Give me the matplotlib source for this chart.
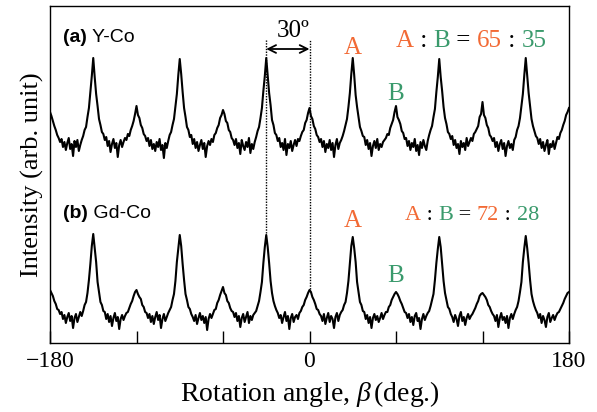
import numpy as np
import matplotlib
matplotlib.use("Agg")
import matplotlib.pyplot as plt

plt.rcParams['font.family'] = 'Liberation Serif'
plt.rcParams['mathtext.fontset'] = 'custom'
plt.rcParams['mathtext.rm'] = 'Liberation Serif'
plt.rcParams['mathtext.it'] = 'Liberation Serif:italic'

ORANGE = '#f26a35'
GREEN = '#3a9a6c'

# rotation angle, 1 deg steps
angle = np.arange(-180, 181)

# intensity (arb. unit), one row per 30 deg
inten_yco = [
    231, 227, 222, 217, 213, 208, 205, 201, 204, 196, 201, 193, 200, 205, 194, 199, 187, 202, 196, 203, 192, 198, 203, 207, 213, 216, 226, 235, 251, 267,
    285, 266, 249, 237, 224, 218, 211, 209, 203, 206, 197, 202, 191, 199, 204, 195, 200, 186, 198, 203, 196, 201, 205, 203, 209, 207, 213, 217, 222, 229,
    237, 228, 225, 218, 215, 209, 207, 202, 205, 197, 203, 194, 199, 192, 201, 196, 204, 193, 198, 185, 200, 195, 202, 208, 211, 218, 224, 237, 249, 268,
    284, 269, 251, 235, 226, 216, 213, 206, 208, 199, 204, 195, 201, 192, 198, 203, 194, 200, 186, 197, 202, 198, 204, 201, 208, 210, 215, 218, 225, 228,
    233, 229, 222, 220, 213, 211, 205, 203, 198, 204, 195, 200, 189, 203, 197, 193, 201, 196, 205, 190, 199, 194, 201, 206, 212, 216, 225, 235, 252, 267,
    285, 267, 250, 238, 223, 218, 210, 208, 202, 205, 196, 200, 193, 204, 188, 199, 195, 202, 192, 198, 203, 197, 204, 202, 207, 211, 213, 220, 223, 230,
    235, 227, 224, 217, 214, 208, 206, 201, 204, 196, 202, 191, 199, 195, 203, 193, 200, 186, 198, 204, 194, 200, 203, 207, 212, 218, 224, 236, 250, 269,
    285, 268, 248, 236, 226, 216, 212, 207, 206, 198, 203, 194, 200, 187, 197, 202, 195, 204, 193, 199, 196, 201, 203, 205, 209, 208, 215, 219, 223, 231,
    237, 226, 223, 219, 212, 210, 204, 205, 197, 202, 193, 200, 196, 204, 192, 198, 188, 201, 195, 203, 197, 193, 202, 208, 213, 217, 226, 234, 251, 266,
    284, 266, 252, 236, 225, 219, 211, 209, 204, 207, 198, 203, 195, 199, 189, 202, 196, 200, 193, 205, 197, 201, 205, 202, 209, 211, 214, 217, 226, 229,
    241, 228, 225, 218, 215, 208, 206, 202, 205, 196, 201, 192, 199, 203, 194, 200, 187, 197, 202, 195, 199, 193, 203, 206, 213, 217, 225, 237, 249, 268,
    285, 267, 250, 237, 224, 217, 212, 207, 205, 199, 204, 195, 201, 192, 198, 203, 189, 199, 196, 202, 194, 200, 206, 204, 210, 213, 218, 222, 228, 231,
    235,
]

inten_gdco = [
    53, 50, 47, 42, 39, 34, 33, 29, 31, 24, 28, 20, 26, 30, 22, 27, 15, 25, 29, 21, 26, 31, 27, 32, 38, 41, 50, 63, 79, 97,
    109, 95, 81, 61, 51, 41, 38, 32, 31, 24, 29, 21, 27, 17, 25, 30, 22, 26, 14, 24, 28, 23, 27, 30, 31, 35, 39, 42, 47, 51,
    53, 49, 46, 44, 38, 36, 31, 30, 25, 29, 21, 27, 19, 26, 31, 23, 28, 15, 24, 29, 22, 26, 30, 33, 36, 43, 49, 62, 81, 95,
    108, 97, 79, 63, 49, 43, 36, 34, 29, 26, 22, 28, 19, 25, 30, 23, 27, 20, 26, 13, 24, 29, 25, 29, 33, 34, 40, 43, 48, 52,
    56, 50, 48, 42, 40, 35, 32, 31, 26, 30, 22, 27, 16, 25, 29, 21, 26, 31, 20, 27, 23, 28, 30, 32, 37, 42, 51, 61, 80, 96,
    108, 96, 80, 62, 50, 42, 37, 33, 30, 25, 28, 20, 26, 31, 22, 27, 14, 25, 29, 21, 26, 28, 24, 30, 32, 36, 38, 43, 46, 50,
    53, 51, 46, 43, 39, 34, 33, 29, 27, 22, 29, 19, 25, 30, 21, 27, 24, 15, 26, 30, 22, 28, 31, 33, 38, 41, 50, 62, 79, 97,
    106, 95, 81, 61, 51, 41, 38, 32, 31, 24, 28, 20, 26, 15, 25, 29, 23, 27, 21, 25, 30, 24, 28, 31, 31, 36, 38, 43, 46, 49,
    51, 49, 46, 42, 39, 35, 31, 30, 25, 29, 21, 26, 18, 27, 30, 22, 25, 14, 24, 29, 23, 27, 30, 32, 37, 43, 49, 63, 80, 94,
    106, 96, 79, 62, 50, 43, 36, 34, 29, 26, 21, 28, 24, 17, 27, 31, 22, 26, 18, 25, 29, 24, 27, 29, 32, 35, 39, 42, 47, 49,
    50, 48, 46, 43, 38, 36, 32, 29, 27, 22, 28, 16, 25, 30, 23, 26, 20, 27, 15, 25, 29, 24, 29, 33, 36, 42, 51, 61, 81, 95,
    107, 95, 80, 63, 49, 42, 37, 33, 30, 25, 29, 20, 27, 23, 16, 26, 30, 21, 25, 28, 23, 27, 30, 31, 34, 37, 40, 44, 47, 50,
    51,
]

ratio_yco = ['65', '35']
ratio_gdco = ['72', '28']

fig = plt.figure(figsize=(5.97, 4.12), dpi=100)
ax = fig.add_axes([50/597, 69/412, 519/597, 337/412])

ax.plot(angle, inten_yco, color='black', lw=1.5)
ax.plot(angle, inten_gdco, color='black', lw=1.5)

ax.set_xlim(-180, 180)
ax.set_ylim(0, 337)
ax.set_yticks([])
ax.set_xticks(np.arange(-180, 181, 60))
ax.set_xticklabels(['\u2212180', '', '', '0', '', '', '180'])
ax.tick_params(axis='x', direction='in', length=8.5, width=1.0, labelsize=17, pad=6)
for s in ax.spines.values():
    s.set_linewidth(1.0)

ax.set_xlabel(r'Rotation angle, $\beta\,$(deg.)', fontsize=20, labelpad=5)
ax.set_ylabel('Intensity (arb. unit)', fontsize=19, labelpad=4)

# 30 deg marker
ax.plot([-30, -30], [110, 303], color='black', lw=1.0, ls=(0, (1, 1)))
ax.plot([0, 0], [54, 303], color='black', lw=1.0, ls=(0, (1, 1)))
ax.annotate('', xy=(-30, 294), xytext=(0, 294),
            arrowprops=dict(arrowstyle='<->', lw=1.3, shrinkA=0, shrinkB=0, mutation_scale=14))
ax.text(-11, 306, '30\u00ba', fontsize=18, ha='center', va='baseline')

# sample names
for y, tag, name in [(301, '(a)', ' Y-Co'), (125, '(b)', ' Gd-Co')]:
    t = ax.text(-171, y, tag, family='Liberation Sans', weight='bold', fontsize=14, va='baseline')
    ax.annotate(name, xy=(1, 0), xycoords=t, family='Liberation Sans', fontsize=14, va='bottom')

# peak labels
ax.text(30, 289, 'A', color=ORANGE, fontsize=18, ha='center', va='baseline')
ax.text(60, 243, 'B', color=GREEN, fontsize=18, ha='center', va='baseline')
ax.text(30, 116, 'A', color=ORANGE, fontsize=18, ha='center', va='baseline')
ax.text(60, 61, 'B', color=GREEN, fontsize=18, ha='center', va='baseline')


def ratio_text(x, y, vals, size):
    parts = [('A', ORANGE), (' : ', 'black'), ('B', GREEN), (' = ', 'black'),
             (vals[0], ORANGE), (' : ', 'black'), (vals[1], GREEN)]
    t = ax.text(x, y, parts[0][0], color=parts[0][1], fontsize=size, va='baseline')
    for txt, col in parts[1:]:
        t = ax.annotate(txt, xy=(1, 0), xycoords=t, color=col, fontsize=size, va='bottom')


ratio_text(60, 296, ratio_yco, 18)
ratio_text(66, 123, ratio_gdco, 16)

fig.savefig('out.png', dpi=100)
